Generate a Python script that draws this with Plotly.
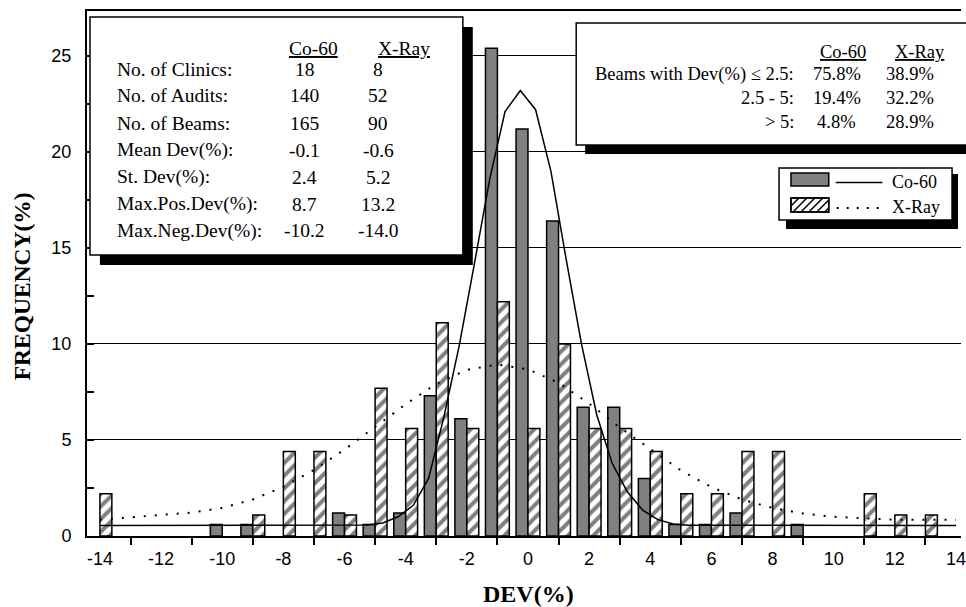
import plotly.graph_objects as go

# ---------------- data ----------------
co60_x = [-10, -9, -6, -5, -4, -3, -2, -1, 0, 1, 2, 3, 4, 5, 6, 7, 9]
co60_y = [0.6, 0.6, 1.2, 0.6, 1.2, 7.3, 6.1, 25.4, 21.2, 16.4, 6.7, 6.7, 3.0, 0.6, 0.6, 1.2, 0.6]

xray_x = [-14, -9, -8, -7, -6, -5, -4, -3, -2, -1, 0, 1, 2, 3, 4, 5, 6, 7, 8, 11, 12, 13]
xray_y = [2.2, 1.1, 4.4, 4.4, 1.1, 7.7, 5.6, 11.1, 5.6, 12.2, 5.6, 10.0, 5.6, 5.6, 4.4, 2.2, 2.2, 4.4, 4.4, 2.2, 1.1, 1.1]

co60_fit_x = [-14, -5.75, -5.25, -4.75, -4.25, -3.75, -3.25, -2.75, -2.25, -1.75, -1.25, -0.75,
              -0.25, 0.25, 0.75, 1.25, 1.75, 2.25, 2.75, 3.25, 3.75, 4.25, 4.75, 5.25, 14]
co60_fit_y = [0.55, 0.55, 0.57, 0.68, 1.0, 1.6, 3.0, 6.2, 9.9, 14.2, 18.6, 22.1,
              23.2, 22.2, 19.0, 14.4, 10.0, 6.3, 3.8, 2.3, 1.35, 0.85, 0.62, 0.56, 0.55]

xray_fit_x = [-14, -13, -12, -11, -10, -9, -8, -7, -6, -5, -4, -3, -2, -1, 0,
              1, 2, 3, 4, 5, 6, 7, 8, 9, 10, 11, 12, 13, 14]
xray_fit_y = [0.85, 0.97, 1.08, 1.22, 1.46, 1.9, 2.56, 3.44, 4.5, 5.7, 6.86, 7.92, 8.65, 8.93, 8.68,
              7.98, 6.9, 5.65, 4.54, 3.42, 2.55, 1.9, 1.46, 1.17, 1.0, 0.92, 0.85, 0.84, 0.84]

x_tick_vals = [-14, -12, -10, -8, -6, -4, -2, 0, 2, 4, 6, 8, 10, 12, 14]
y_tick_vals = [0, 5, 10, 15, 20, 25]

stats_labels = ["No. of Clinics:", "No. of Audits:", "No. of Beams:", "Mean Dev(%):",
                "St. Dev(%):", "Max.Pos.Dev(%):", "Max.Neg.Dev(%):"]
stats_co60 = ["18", "140", "165", "-0.1", "2.4", "8.7", "-10.2"]
stats_xray = ["8", "52", "90", "-0.6", "5.2", "13.2", "-14.0"]

range_labels = ["Beams with Dev(%) ≤ 2.5:", "2.5 - 5:", "> 5:"]
range_co60 = ["75.8%", "19.4%", "4.8%"]
range_xray = ["38.9%", "32.2%", "28.9%"]

# ---------------- layout helpers ----------------
W, H = 966, 607
ML, MR, MT, MB = 87, 0, 11, 71
PW, PH = W - ML - MR, H - MT - MB


def px(x):
    return (x - ML) / PW


def py(y):
    return (H - MB - y) / PH


SERIF = "Liberation Serif, Times New Roman, serif"
SANS = "Liberation Sans, Arial, sans-serif"

fig = go.Figure()

fig.add_trace(go.Bar(
    x=co60_x, y=co60_y, width=0.39, offset=-0.39,
    marker=dict(color="#808080", line=dict(color="black", width=1.5)),
    showlegend=False, name="Co-60"))
fig.add_trace(go.Bar(
    x=xray_x, y=xray_y, width=0.39, offset=0,
    marker=dict(color="white", line=dict(color="black", width=1.5),
                pattern=dict(shape="/", fgcolor="black", bgcolor="white", size=9, solidity=0.45)),
    showlegend=False, name="X-Ray"))
fig.add_trace(go.Scatter(
    x=co60_fit_x, y=co60_fit_y, mode="lines",
    line=dict(color="black", width=1.5), showlegend=False))
fig.add_trace(go.Scatter(
    x=xray_fit_x, y=xray_fit_y, mode="lines",
    line=dict(color="black", width=2, dash="2px,9px"), showlegend=False))

shapes = []
annotations = []


def rect(x0, y0, x1, y1, fill, lw=1.5, lc="black"):
    shapes.append(dict(type="rect", xref="paper", yref="paper", layer="above",
                       x0=px(x0), x1=px(x1), y0=py(y1), y1=py(y0),
                       fillcolor=fill, line=dict(color=lc, width=lw)))


def hline(x0, x1, y, dash="solid", lw=1.5):
    shapes.append(dict(type="line", xref="paper", yref="paper", layer="above",
                       x0=px(x0), x1=px(x1), y0=py(y), y1=py(y),
                       line=dict(color="black", width=lw, dash=dash)))


def text(t, x, y, xanchor="center", size=18, bold=False, family=SERIF, angle=0):
    annotations.append(dict(text=("<b>%s</b>" % t) if bold else t, x=px(x), y=py(y),
                            xref="paper", yref="paper", xanchor=xanchor, yanchor="middle",
                            showarrow=False, textangle=angle,
                            font=dict(family=family, size=size, color="black")))


# left statistics box
rect(100, 27, 475, 265, "black", lw=0)
rect(90, 17, 465, 255, "white")
text("<u>Co-60</u>", 315, 48, size=19.5)
text("<u>X-Ray</u>", 406, 48, size=19.5)
row_y = [70, 96, 123, 150, 177, 204, 231]
for lab, a, b, yy in zip(stats_labels, stats_co60, stats_xray, row_y):
    text(lab, 115, yy, xanchor="left", size=19.5)
    text(a, 306, yy, size=19.5)
    text(b, 380, yy, size=19.5)

# right range box
rect(588, 32, 985, 154, "black", lw=0)
rect(579, 23, 980, 145, "white")
text("<u>Co-60</u>", 847, 52, size=18.5)
text("<u>X-Ray</u>", 925, 52, size=18.5)
for lab, a, b, yy in zip(range_labels, range_co60, range_xray, [74, 98, 122]):
    text(lab, 800, yy, xanchor="right", size=18.5)
    text(a, 841, yy, size=18.5)
    text(b, 915, yy, size=18.5)

# legend
rect(790, 174, 963, 229, "black", lw=0)
rect(783, 168, 957, 220, "white")
rect(795, 173, 833, 186, "#808080")
hline(840, 887, 182.5)
text("Co-60", 895, 182, xanchor="left")
rect(795, 198, 833, 212, "white")
# hatch lines for the legend swatch
hx0, hx1, hy0, hy1 = 795, 833, 198, 212
step = 8
path = ""
b = hx0 - (hy1 - hy0)
while b < hx1:
    xa, ya = b, hy1
    xb, yb = b + (hy1 - hy0), hy0
    if xa < hx0:
        ya = hy1 - (hx0 - xa)
        xa = hx0
    if xb > hx1:
        yb = hy0 + (xb - hx1)
        xb = hx1
    if xb > xa:
        path += "M%.5f,%.5f L%.5f,%.5f " % (px(xa), py(ya), px(xb), py(yb))
    b += step
shapes.append(dict(type="path", xref="paper", yref="paper", layer="above", path=path,
                   line=dict(color="black", width=1.5)))
rect(795, 198, 833, 212, "rgba(0,0,0,0)")
hline(841, 890, 208, dash="2px,8px", lw=2)
text("X-Ray", 895, 207, xanchor="left")

# axis titles
text("DEV(%)", 531, 594, size=24, bold=True)
text("FREQUENCY(%)", 22, 286, size=23.5, bold=True, angle=-90)

fig.update_layout(
    width=W, height=H,
    margin=dict(l=ML, r=MR, t=MT, b=MB, pad=0),
    paper_bgcolor="white", plot_bgcolor="white",
    barmode="overlay",
    shapes=shapes, annotations=annotations,
    showlegend=False,
)
fig.update_xaxes(
    range=[-14.423, 14.163],
    tickmode="array", tickvals=x_tick_vals, ticktext=[str(v) for v in x_tick_vals],
    ticks="", ticklabelstandoff=5, ticklabeloverflow="allow",
    tickfont=dict(family=SANS, size=18, color="black"),
    showgrid=False, zeroline=False,
    showline=True, linecolor="black", linewidth=2, mirror=True,
    minor=dict(tickmode="linear", tick0=-13, dtick=2, ticks="outside", ticklen=7,
               tickwidth=1.5, tickcolor="black", showgrid=False),
)
fig.update_yaxes(
    range=[0, 27.34],
    tickmode="array", tickvals=y_tick_vals, ticktext=[str(v) for v in y_tick_vals],
    ticks="inside", ticklen=7, tickwidth=1.5, tickcolor="black", ticklabelstandoff=10,
    tickfont=dict(family=SANS, size=18, color="black"),
    showgrid=True, gridcolor="black", gridwidth=1,
    zeroline=False,
    showline=True, linecolor="black", linewidth=2,
    minor=dict(tickmode="linear", tick0=0, dtick=2.5, ticks="inside", ticklen=7,
               tickwidth=1.5, tickcolor="black", showgrid=False),
)

fig.write_html("out.html")
